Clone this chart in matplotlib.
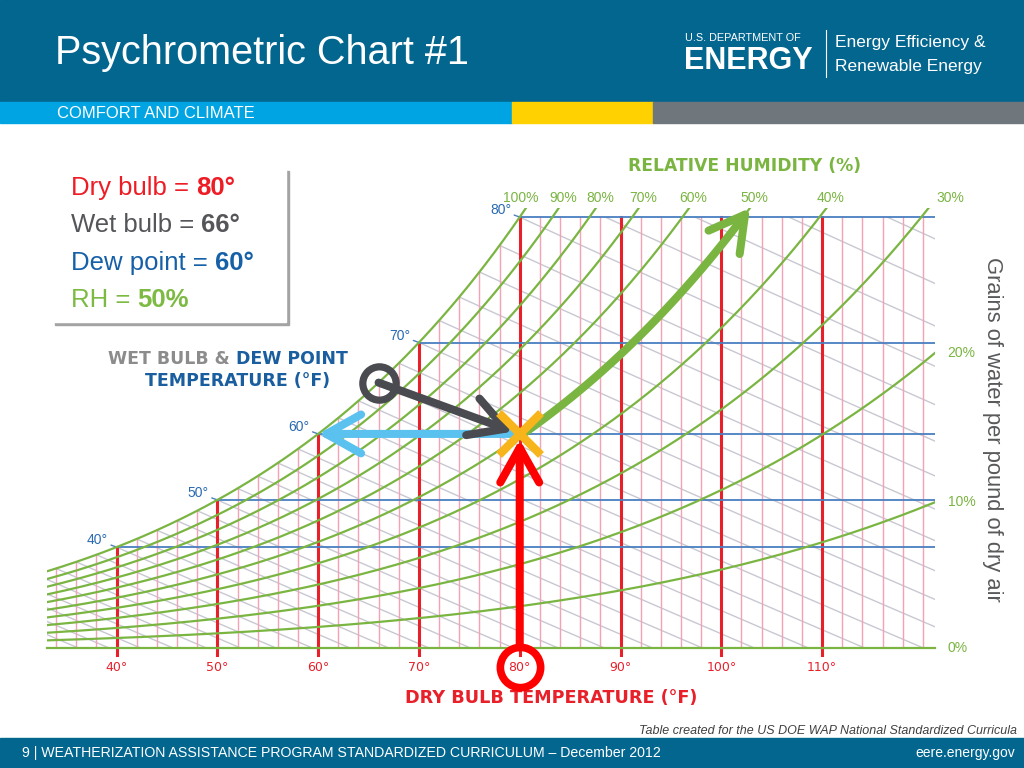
import numpy as np
import matplotlib
matplotlib.use('Agg')
import matplotlib.pyplot as plt
from matplotlib.patches import Rectangle, Polygon

plt.rcParams['font.family'] = ['Liberation Sans', 'DejaVu Sans']

### chart values

rh_levels = [100, 90, 80, 70, 60, 50, 40, 30, 20, 10, 0]
rh_top = [100, 90, 80, 70, 60, 50, 40]      # labelled where they leave the top
rh_side = [20, 10, 0]                        # labelled at the right edge
dry_bulb_major = [40, 50, 60, 70, 80, 90, 100, 110]
dry_bulb_minor = list(range(34, 121, 2))
dew_points = [40, 50, 60, 70, 80]
wet_bulbs = list(range(24, 90, 2))

state_dry_bulb = 80
state_wet_bulb = 66
state_dew_point = 60
state_rh = 50

T_MIN, T_MAX = 33.1, 121.2     # chart edges (F)
W_MAX = 158.5                  # top of plotting area (grains)
P_ATM = 1013.25                # hPa

# colours
RED = '#e8202a'
PINK = '#f3a3b5'
GREEN = '#7ab542'
BLUE = '#4a7fc0'
WBGRAY = '#c8c8d2'
HEAD = '#03668f'


### psychrometrics

def f_to_c(t):
    return (np.asarray(t, dtype=float) - 32) / 1.8

def p_sat(t_f):
    tc = f_to_c(t_f)
    return 6.112 * np.exp(17.62 * tc / (243.12 + tc))

def t_from_psat(p):
    a = np.log(p / 6.112)
    return 243.12 * a / (17.62 - a) * 1.8 + 32

def hum_ratio(t_f, rh):
    pv = rh / 100.0 * p_sat(t_f)
    return 0.622 * pv / (P_ATM - pv) * 7000

def temp_at(w, rh):
    wl = w / 7000.0
    pv = wl * P_ATM / (0.622 + wl)
    return t_from_psat(pv / (rh / 100.0))

def wet_bulb_line(twb, t):
    ws = hum_ratio(twb, 100) / 7000.0
    w = ((1093 - 0.556 * twb) * ws - 0.240 * (t - twb)) / (1093 + 0.444 * t - twb)
    return w * 7000


W_TOP = hum_ratio(80, 100)
W_STATE = hum_ratio(state_dew_point, 100)

### figure

fig = plt.figure(figsize=(10.24, 7.68), dpi=100)
bg = fig.add_axes([0, 0, 1, 1])
bg.set_xlim(0, 1024)
bg.set_ylim(768, 0)
bg.axis('off')

# header / footer bands
bg.add_patch(Rectangle((0, 0), 1024, 102, color=HEAD))
bg.add_patch(Rectangle((0, 102), 512, 21, color='#00a4e2'))
bg.add_patch(Rectangle((512, 102), 141, 21, color='#ffd100'))
bg.add_patch(Rectangle((653, 102), 371, 21, color='#6f777d'))
bg.add_patch(Rectangle((0, 738), 1024, 30, color=HEAD))

bg.text(55, 53, 'Psychrometric Chart #1', color='white', fontsize=28.5, va='center')
bg.text(685, 38, 'U.S. DEPARTMENT OF', color='white', fontsize=7.8, va='center')
bg.text(684, 61, 'ENERGY', color='white', fontsize=22, fontweight='bold', va='center')
bg.plot([826, 826], [30, 77], color='white', lw=0.8)
bg.text(835, 43, 'Energy Efficiency &', color='white', fontsize=12.5, va='center')
bg.text(835, 67, 'Renewable Energy', color='white', fontsize=12.5, va='center')
bg.text(57, 113, 'COMFORT AND CLIMATE', color='white', fontsize=12, va='center')

bg.text(1017, 731, 'Table created for the US DOE WAP National Standardized Curricula',
        ha='right', va='center', fontsize=9, style='italic', color='#404040')
bg.text(22, 753, '9 | WEATHERIZATION ASSISTANCE PROGRAM STANDARDIZED CURRICULUM \u2013 December 2012',
        color='white', fontsize=10.2, va='center')
bg.text(1015, 753, 'eere.energy.gov', color='white', fontsize=10, va='center', ha='right')

# info box
bg.add_patch(Rectangle((55, 171), 234, 154, color='#a3a3a3'))
bg.add_patch(Rectangle((52, 168), 234, 154, color='white'))


def two_part(x, y, a, b, color, size=18.5):
    t = bg.text(x, y, a, color=color, fontsize=size, va='baseline', ha='left')
    bg.annotate(b, xy=(1, 0), xycoords=t, color=color, fontsize=size,
                fontweight='bold', va='bottom', ha='left')


two_part(71, 195, 'Dry bulb = ', '80\u00b0', '#ee1c24')
two_part(71, 232, 'Wet bulb = ', '66\u00b0', '#55565a')
two_part(71, 270, 'Dew point = ', '60\u00b0', '#1660a8')
two_part(71, 307, 'RH = ', '50%', '#7dba43')

# chart captions
bg.text(745, 166, 'RELATIVE HUMIDITY (%)', color=GREEN, fontsize=12.3, fontweight='bold',
        family='DejaVu Sans', ha='center', va='center')
bg.text(551, 698, 'DRY BULB TEMPERATURE (\u00b0F)', color=RED, fontsize=12.7, fontweight='bold',
        family='DejaVu Sans', ha='center', va='center')
t1 = bg.text(108, 364, 'WET BULB &', color='#8c8c8c', fontsize=12.5, fontweight='bold',
             family='DejaVu Sans', ha='left', va='baseline')
bg.annotate(' DEW POINT', xy=(1, 0), xycoords=t1, color='#1a5e9f', fontsize=12.5,
            fontweight='bold', family='DejaVu Sans', ha='left', va='bottom')
bg.text(238, 381, 'TEMPERATURE (\u00b0F)', color='#1a5e9f', fontsize=12.5, fontweight='bold',
        family='DejaVu Sans', ha='center', va='center')
bg.text(992, 429, 'Grains of water per pound of dry air', rotation=-90, ha='center',
        va='center', fontsize=15.8, color='#58595b')

### psychrometric chart

ax = fig.add_axes([47 / 1024, 120 / 768, 888 / 1024, 2.776 * W_MAX / 768])
ax.set_xlim(T_MIN, T_MAX)
ax.set_ylim(0, W_MAX)
ax.axis('off')
ax.patch.set_alpha(0)

t_sat = np.linspace(T_MIN, 80, 200)
region = np.vstack([np.column_stack([t_sat, hum_ratio(t_sat, 100)]),
                    [[T_MAX, W_TOP], [T_MAX, 0], [T_MIN, 0]]])
clip = Polygon(region, closed=True, facecolor='none', edgecolor='none')
ax.add_patch(clip)

# wet bulb lines
for twb in wet_bulbs:
    t = np.linspace(twb - 4, T_MAX + 10, 60)
    ln, = ax.plot(t, wet_bulb_line(twb, t), color=WBGRAY, lw=1.0, zorder=1)
    ln.set_clip_path(clip)

# dry bulb lines
for t in dry_bulb_minor:
    if t in dry_bulb_major:
        continue
    ax.plot([t, t], [0, min(hum_ratio(t, 100), W_TOP)], color=PINK, lw=1.0, zorder=2)
for t in dry_bulb_major:
    ax.plot([t, t], [-2.6, min(hum_ratio(t, 100), W_TOP)], color=RED, lw=2.2,
            zorder=3, clip_on=False)
    ax.annotate(f'{t}\u00b0', xy=(t, 0), xytext=(0, -14), textcoords='offset points',
                ha='center', va='center', fontsize=9, color=RED, family='DejaVu Sans',
                annotation_clip=False)

# dew point lines
for dp in dew_points:
    w = hum_ratio(dp, 100)
    ax.plot([dp, T_MAX], [w, w], color=BLUE, lw=1.3, zorder=4)
    ax.annotate(f'{dp}\u00b0', xy=(dp, w), xytext=(-6, 5), textcoords='offset points',
                ha='right', va='center', fontsize=10, color='#2a6ab2',
                annotation_clip=False,
                arrowprops=dict(arrowstyle='-', color=BLUE, lw=1, shrinkA=0, shrinkB=0))

# relative humidity curves
t_full = np.linspace(T_MIN, T_MAX, 400)
for rh in rh_levels:
    ax.plot(t_full, hum_ratio(t_full, rh), color=GREEN, lw=1.6, zorder=5,
            clip_on=(rh != 0))
for rh in rh_top:
    dx = -4 if rh == 100 else 3
    ax.annotate(f'{rh}%', xy=(temp_at(W_MAX, rh), W_MAX), xytext=(dx, 2),
                textcoords='offset points', ha='center', va='bottom', fontsize=10,
                color=GREEN, annotation_clip=False)
ax.annotate('30%', xy=(T_MAX, W_MAX), xytext=(1, 2), textcoords='offset points',
            ha='left', va='bottom', fontsize=10, color=GREEN, annotation_clip=False)
for rh in rh_side:
    ax.annotate(f'{rh}%', xy=(T_MAX, hum_ratio(T_MAX, rh)), xytext=(9, 0),
                textcoords='offset points', ha='left', va='center', fontsize=10,
                color=GREEN, annotation_clip=False)

### reading the state point

head = dict(arrowstyle='->,head_length=1.25,head_width=0.7', mutation_scale=20, lw=5.8,
            capstyle='round', joinstyle='round')
w_wb = hum_ratio(state_wet_bulb, 100)

# dew point: straight left to saturation
ax.annotate('', xy=(state_dew_point, W_STATE), xytext=(state_dry_bulb, W_STATE),
            arrowprops=dict(color='#5bc2f0', shrinkA=0, shrinkB=0, **head),
            annotation_clip=False, zorder=6)
# wet bulb: circle on saturation, arrow to the state point
ax.plot([state_wet_bulb], [w_wb], marker='o', ms=24, mfc='none', mec='#4a4b50', mew=5.2,
        zorder=7, clip_on=False)
ax.annotate('', xy=(state_dry_bulb, W_STATE), xytext=(state_wet_bulb, w_wb),
            arrowprops=dict(color='#4a4b50', shrinkA=0, shrinkB=5, **head),
            annotation_clip=False, zorder=7)
# relative humidity: follow the curve up
t_arc = np.linspace(state_dry_bulb + 0.5, temp_at(W_MAX, state_rh), 60)
w_arc = hum_ratio(t_arc, state_rh)
ax.plot(t_arc[:-2], w_arc[:-2], color=GREEN, lw=5.8, solid_capstyle='round', zorder=7,
        clip_on=False)
ax.annotate('', xy=(t_arc[-1], w_arc[-1]), xytext=(t_arc[-4], w_arc[-4]),
            arrowprops=dict(color=GREEN, shrinkA=0, shrinkB=0, **head),
            annotation_clip=False, zorder=7)
# state point
ax.plot([state_dry_bulb], [W_STATE], marker='x', ms=30, mec='#f7b51b', mew=6,
        zorder=8, clip_on=False)
# dry bulb: up from the axis
ax.plot([state_dry_bulb], [-6.8], marker='o', ms=29, mfc='none', mec='#ff0000', mew=5.5,
        zorder=9, clip_on=False)
ax.annotate('', xy=(state_dry_bulb, W_STATE), xytext=(state_dry_bulb, -6.8),
            arrowprops=dict(color='#ff0000', shrinkA=14, shrinkB=4, **head),
            annotation_clip=False, zorder=9)

fig.savefig('out.png', dpi=100)
